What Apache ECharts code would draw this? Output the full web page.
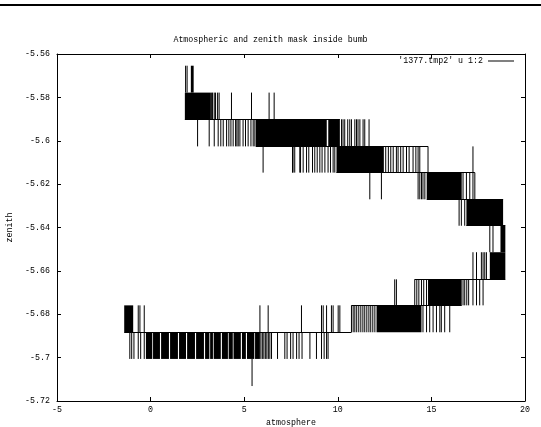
<!DOCTYPE html>
<html><head><meta charset="utf-8">
<script src="https://cdn.jsdelivr.net/npm/echarts@6/dist/echarts.min.js"></script>
<style>html,body{margin:0;padding:0;background:#fff}#c{width:541px;height:427px}</style>
</head><body><div id="c"></div>
<script>
// zenith levels the data jumps between (top to bottom)
const levels = [-5.5654, -5.5778, -5.5901, -5.6026, -5.6147, -5.6270, -5.6392, -5.6514, -5.6639, -5.6759, -5.6883, -5.7006, -5.7131];

// dense (solid) stretches per band between levels[b] and levels[b+1]: [atmStart, atmEnd]
const bandBlocks = [
  [[2.15, 2.30]],
  [[1.83, 3.22]],
  [[5.62, 9.41], [9.49, 10.11]],
  [[9.93, 12.46]],
  [[14.75, 16.62]],
  [[16.87, 18.83]],
  [[18.69, 18.95]],
  [[18.12, 18.95]],
  [[14.82, 16.62]],
  [[-1.41, -0.93], [12.07, 14.47]],
  [[-0.25, 0.09], [0.13, 0.50], [0.56, 0.98], [1.04, 1.46], [1.52, 1.89], [1.95, 2.37], [2.43, 2.85], [2.91, 3.14], [3.18, 3.33], [3.37, 3.75], [3.81, 4.13], [4.17, 4.39], [4.43, 4.82], [4.88, 5.09], [5.15, 5.54], [5.58, 5.84]],
  []
];

// isolated jumps per band: atmosphere values
const bandTicks = [
  [1.87, 1.95],
  [3.26, 3.31, 3.40, 3.47, 3.58, 3.66, 4.32, 5.39, 6.33, 6.60],
  [2.51, 3.13, 3.40, 3.61, 3.75, 3.88, 4.06, 4.18, 4.29, 4.41, 4.54, 4.61, 4.68, 4.77, 4.94, 5.07, 5.21, 5.36, 5.48, 5.57, 10.20, 10.28, 10.37, 10.53, 10.64, 10.73, 10.91, 11.00, 11.08, 11.18, 11.35, 11.44, 11.67],
  [6.01, 7.58, 7.61, 7.70, 7.97, 8.01, 8.15, 8.33, 8.45, 8.65, 8.77, 8.90, 9.04, 9.16, 9.31, 9.48, 9.61, 9.75, 9.84, 12.56, 12.70, 12.83, 12.96, 13.13, 13.22, 13.36, 13.49, 13.67, 13.81, 14.02, 14.17, 14.29, 14.38, 14.82, 17.22],
  [11.71, 12.33, 14.29, 14.38, 14.47, 14.55, 14.65, 16.69, 16.87, 17.05, 17.22, 17.32],
  [16.48, 16.60, 16.78],
  [18.12, 18.29],
  [17.22, 17.41, 17.67, 17.76, 17.85, 17.94],
  [13.04, 13.13, 14.11, 14.22, 14.33, 14.47, 14.59, 14.74, 16.69, 16.78, 16.89, 16.99, 17.22, 17.41, 17.58, 17.76],
  [-0.66, -0.57, -0.34, 5.84, 6.28, 8.06, 9.13, 9.22, 9.40, 9.66, 9.75, 10.02, 10.11, 10.73, 10.82, 10.91, 11.01, 11.12, 11.23, 11.34, 11.44, 11.55, 11.66, 11.76, 11.87, 11.98, 14.55, 14.74, 14.91, 15.09, 15.27, 15.45, 15.53, 15.71, 15.98],
  [-1.11, -1.01, -0.89, -0.66, -0.53, -0.34, 5.89, 5.97, 6.05, 6.13, 6.21, 6.29, 6.37, 6.46, 6.78, 7.17, 7.29, 7.48, 7.61, 7.80, 7.93, 8.09, 8.51, 8.86, 9.13, 9.27, 9.40, 9.48],
  [5.42]
];

// stretches where the trace runs along one level: [levelIndex, atmStart, atmEnd]
const levelRuns = [[2, 1.83, 10.11], [3, 5.62, 14.82], [4, 9.93, 17.32], [5, 14.75, 18.83], [6, 16.87, 18.95], [8, 14.11, 18.95], [9, 10.73, 16.62], [10, -1.41, 10.73]];

const xRange = [-5, 20, 5];
const yRange = [-5.72, -5.56, 0.02];
const seriesName = "'1377.tmp2' u 1:2";
const titleText = 'Atmospheric and zenith mask inside bumb';

const blockData = [], tickData = [], runData = [];
bandBlocks.forEach((arr, b) => arr.forEach(([a, c]) => blockData.push([a, c, levels[b], levels[b + 1]])));
bandTicks.forEach((arr, b) => arr.forEach(x => tickData.push([x, levels[b], levels[b + 1]])));
levelRuns.forEach(([i, a, c]) => runData.push([a, c, levels[i]]));

const font = 'Liberation Mono';
const fs = 8.3;
const txt = {fontFamily: font, fontSize: fs, color: '#000'};
const chart = echarts.init(document.getElementById('c'), null, {renderer: 'canvas'});

function xAx(pos, main) {
  return {
    type: 'value', min: xRange[0], max: xRange[1], interval: xRange[2], position: pos,
    axisLine: {show: true, onZero: false, lineStyle: {color: '#000', width: 1}},
    axisTick: {show: true, inside: true, length: 4, lineStyle: {color: '#000'}},
    axisLabel: {show: main, margin: 5, ...txt, formatter: v => String(v)},
    splitLine: {show: false},
    name: main ? 'atmosphere' : '', nameLocation: 'middle', nameGap: 17, nameTextStyle: txt
  };
}
function yAx(pos, main) {
  return {
    type: 'value', min: yRange[0], max: yRange[1], interval: yRange[2], position: pos,
    axisLine: {show: true, onZero: false, lineStyle: {color: '#000', width: 1}},
    axisTick: {show: true, inside: true, length: 4, lineStyle: {color: '#000'}},
    axisLabel: {show: main, margin: 7, ...txt, formatter: v => String(parseFloat(v.toFixed(2)))},
    splitLine: {show: false},
    name: main ? 'zenith' : '', nameLocation: 'middle', nameGap: 42, nameTextStyle: txt
  };
}

chart.setOption({
  animation: false,
  backgroundColor: '#fff',
  title: {text: titleText, left: 'center', top: 31, textStyle: {...txt, fontWeight: 'normal'}},
  legend: {
    data: [{name: seriesName, icon: 'rect'}], right: 22, top: 52, itemWidth: 26, itemHeight: 1,
    align: 'right', selectedMode: false, textStyle: txt
  },
  graphic: [{type: 'rect', left: 0, top: 4, shape: {width: 541, height: 2}, style: {fill: '#000'}}],
  grid: {left: 57, right: 16, top: 54, bottom: 26, containLabel: false, outerBoundsMode: 'none'},
  xAxis: [xAx('bottom', true), xAx('top', false)],
  yAxis: [yAx('left', true), yAx('right', false)],
  series: [
    {
      name: seriesName, type: 'custom', xAxisIndex: 0, yAxisIndex: 0, clip: true,
      itemStyle: {color: '#000'},
      encode: {x: [0, 1], y: [2, 3]},
      data: blockData,
      renderItem: (params, api) => {
        const p0 = api.coord([api.value(0), api.value(2)]);
        const p1 = api.coord([api.value(1), api.value(3)]);
        return {type: 'rect', shape: {x: p0[0], y: Math.min(p0[1], p1[1]), width: p1[0] - p0[0], height: Math.abs(p1[1] - p0[1])}, style: {fill: '#000'}};
      }
    },
    {
      name: seriesName, type: 'custom', xAxisIndex: 0, yAxisIndex: 0, clip: true,
      itemStyle: {color: '#000'},
      encode: {x: 0, y: [1, 2]},
      data: tickData,
      renderItem: (params, api) => {
        const p0 = api.coord([api.value(0), api.value(1)]);
        const p1 = api.coord([api.value(0), api.value(2)]);
        return {type: 'line', shape: {x1: p0[0], y1: p0[1], x2: p1[0], y2: p1[1]}, style: {stroke: '#000', lineWidth: 1}};
      }
    },
    {
      name: seriesName, type: 'custom', xAxisIndex: 0, yAxisIndex: 0, clip: true,
      itemStyle: {color: '#000'},
      encode: {x: [0, 1], y: 2},
      data: runData,
      renderItem: (params, api) => {
        const p0 = api.coord([api.value(0), api.value(2)]);
        const p1 = api.coord([api.value(1), api.value(2)]);
        const y = Math.round(p0[1] - 0.5) + 0.5;
        return {type: 'line', shape: {x1: p0[0], y1: y, x2: p1[0], y2: y}, style: {stroke: '#000', lineWidth: 1}};
      }
    }
  ]
});
</script></body></html>
